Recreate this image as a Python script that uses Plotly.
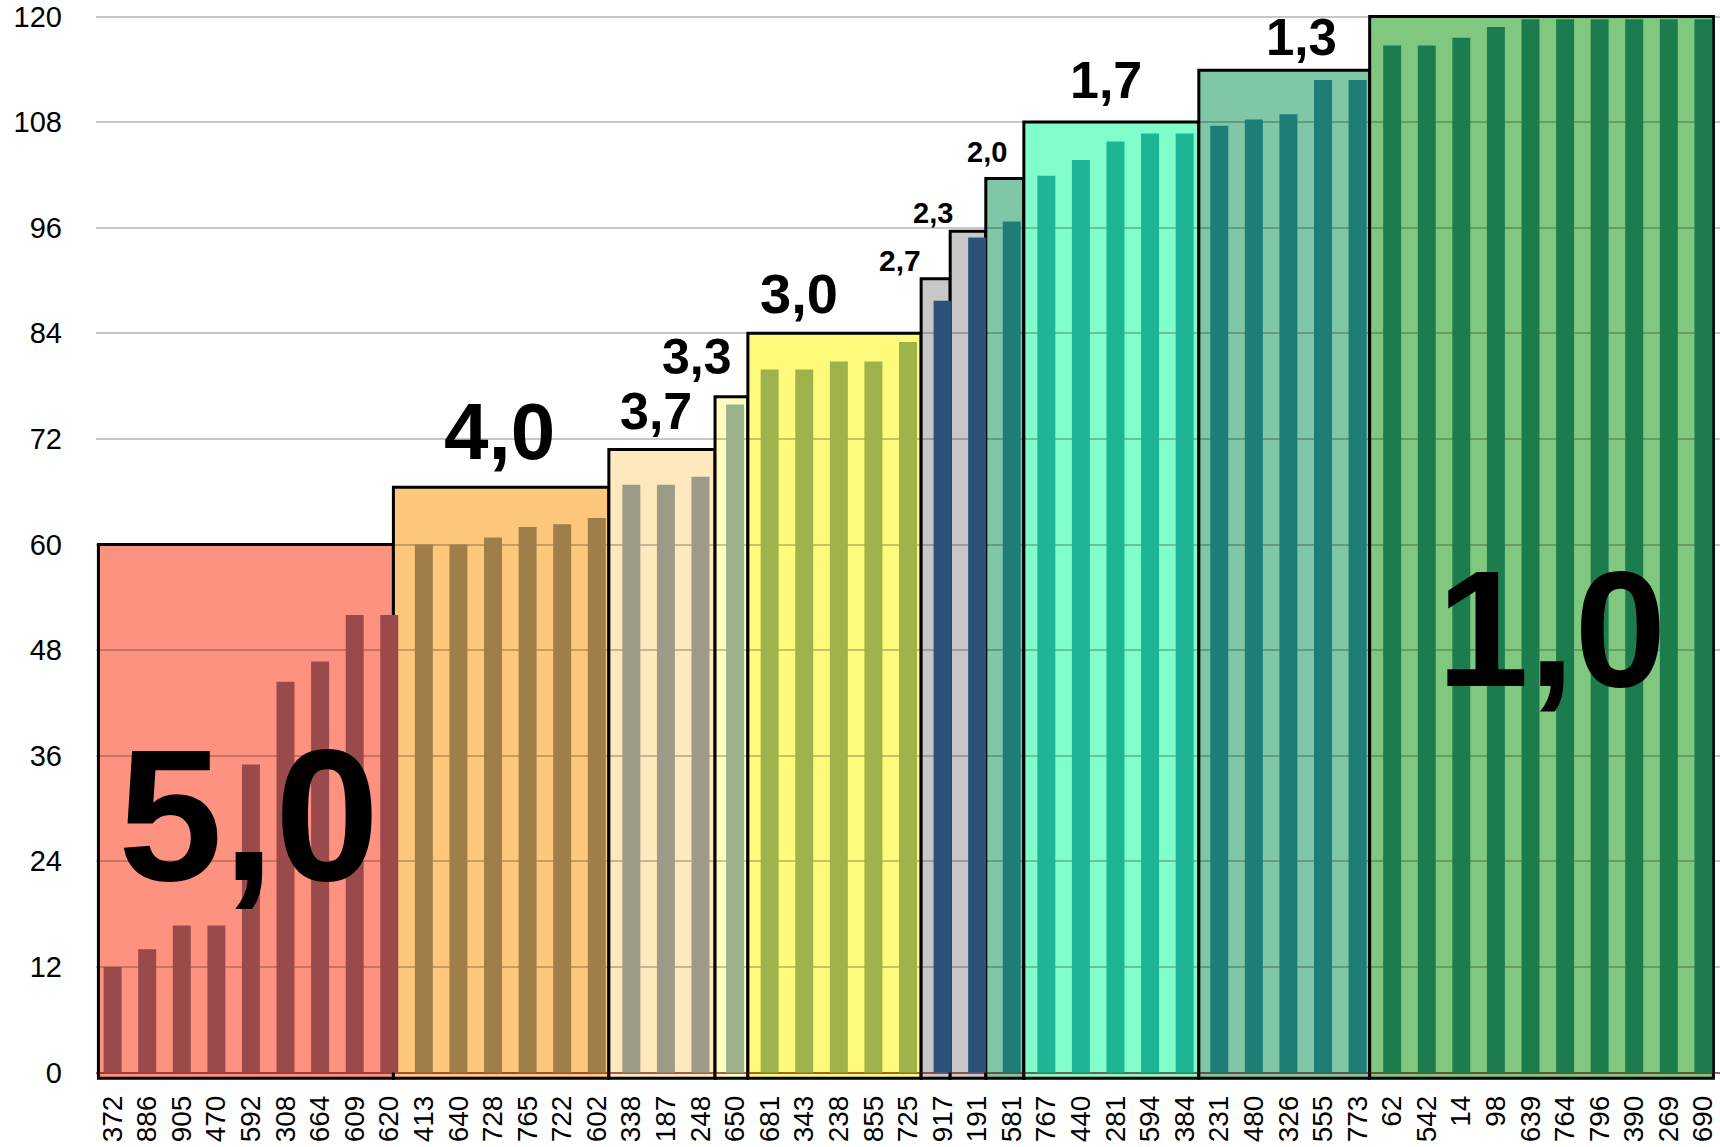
import plotly.graph_objects as go

# ---------------- data ----------------
ids = ["372", "886", "905", "470", "592", "308", "664", "609", "620",
       "413", "640", "728", "765", "722", "602",
       "338", "187", "248",
       "650",
       "681", "343", "238", "855", "725",
       "917",
       "191",
       "581",
       "767", "440", "281", "594", "384",
       "231", "480", "326", "555", "773",
       "62", "542", "14", "98", "639", "764", "796", "390", "269", "690"]

points = [12, 14, 16.7, 16.7, 35, 44.4, 46.7, 52, 52,
          60, 60, 60.8, 62, 62.3, 63,
          66.8, 66.8, 67.7,
          75.9,
          79.9, 79.9, 80.8, 80.8, 83,
          87.7,
          94.9,
          96.7,
          101.9, 103.7, 105.8, 106.7, 106.7,
          107.6, 108.3, 108.9, 112.8, 112.8,
          116.7, 116.7, 117.6, 118.8, 119.7, 119.7, 119.7, 119.7, 119.7, 119.7]

grades = ["5,0", "4,0", "3,7", "3,3", "3,0", "2,7", "2,3", "2,0", "1,7", "1,3", "1,0"]
group_sizes = [9, 6, 3, 1, 5, 1, 1, 1, 5, 5, 10]
grade_limits = [60, 66.5, 70.8, 76.8, 84, 90.2, 95.6, 101.6, 108, 113.9, 120]

y_ticks = [0, 12, 24, 36, 48, 60, 72, 84, 96, 108, 120]

# ---------------- styles ----------------
rect_colors = ["#fe9280", "#fec87c", "#fee8bd", "#fefbbe", "#fefb7c", "#c8c8c8",
               "#c8c8c8", "#7fc7a7", "#80fdca", "#7fc7a7", "#80c880"]
bar_colors = ["#9b4a4c", "#9f7e4a", "#9b9b88", "#9bb18c", "#9fb24c", "#2d5279",
              "#2d5279", "#1e7d77", "#1eb496", "#1e7d77", "#1d7c4e"]
# small tweaks of each box's right edge (in category units)
box_right_adj = [-0.23, 0, 0.07, 0.02, 0.03, -0.13, -0.1, 0, 0.06, 0, 0]
# label style: (x offset from group centre, y offset above grade limit, absolute y inside, font size)
label_style = [
    (-0.07, None, 29.3, 188),
    (-0.3, 6.4, None, 80),
    (-0.3, 4.4, None, 52),
    (-1.1, 4.5, None, 50),
    (-1.15, 4.5, None, 56),
    (-1.22, 2.1, None, 30),
    (-1.28, 2.1, None, 29),
    (-0.72, 3.0, None, 29),
    (-0.28, 4.8, None, 52),
    (0.38, 3.7, None, 51),
    (0.12, None, 50.4, 165),
]

FONT = "Liberation Sans, Arial, Helvetica, sans-serif"
n = len(ids)
x_min, x_max = -0.48, n - 1 + 0.48

fig = go.Figure()

starts = []
s = 0
for g in group_sizes:
    starts.append(s)
    s += g

bar_col = []
for gi, g in enumerate(group_sizes):
    bar_col += [bar_colors[gi]] * g

fig.add_trace(go.Bar(
    x=list(range(n)), y=points, width=0.52,
    marker=dict(color=bar_col, line=dict(width=0)),
    hoverinfo="skip", showlegend=False,
))

shapes = []
annotations = []
prev_right = x_min + 0.07
for gi, g in enumerate(group_sizes):
    st = starts[gi]
    en = st + g - 1
    x0 = prev_right
    x1 = min(en + 0.35 + box_right_adj[gi], x_max - 0.19)
    prev_right = x1
    shapes.append(dict(
        type="rect", xref="x", yref="y", x0=x0, x1=x1, y0=-0.65, y1=grade_limits[gi],
        fillcolor=rect_colors[gi], line=dict(color="black", width=3), layer="below",
    ))
    dx, dy, yabs, size = label_style[gi]
    cx = (st + en) / 2 + dx
    cy = yabs if yabs is not None else grade_limits[gi] + dy
    annotations.append(dict(
        x=cx, y=cy, xref="x", yref="y", text=grades[gi], showarrow=False,
        xanchor="center", yanchor="middle",
        font=dict(family=FONT, size=size, color="black", weight="bold"),
    ))

fig.update_layout(
    width=1720, height=1147,
    margin=dict(l=96, r=0, t=13, b=67, autoexpand=False),
    paper_bgcolor="white", plot_bgcolor="white",
    shapes=shapes, annotations=annotations,
    bargap=0.48,
    font=dict(family=FONT, size=28, color="black"),
    xaxis=dict(
        range=[x_min, x_max], tickmode="array", tickvals=list(range(n)), ticktext=ids,
        tickangle=-90, showgrid=False, zeroline=False, showline=False, ticks="",
        ticklabelstandoff=9, automargin=False,
        tickfont=dict(family=FONT, size=28, color="black"),
    ),
    yaxis=dict(
        range=[-0.85, 120.4], tickmode="array", tickvals=y_ticks,
        showgrid=True, gridcolor="rgba(0,0,0,0.22)", gridwidth=2,
        zeroline=True, zerolinecolor="rgba(100,0,0,0.6)", zerolinewidth=2,
        showline=False, ticks="", ticklabelstandoff=33, automargin=False,
        tickfont=dict(family=FONT, size=29, color="black"),
    ),
)

fig.write_html(
    "out.html",
    config={"displayModeBar": False},
    post_script="document.body.style.margin='0';document.body.style.overflow='hidden';",
)
